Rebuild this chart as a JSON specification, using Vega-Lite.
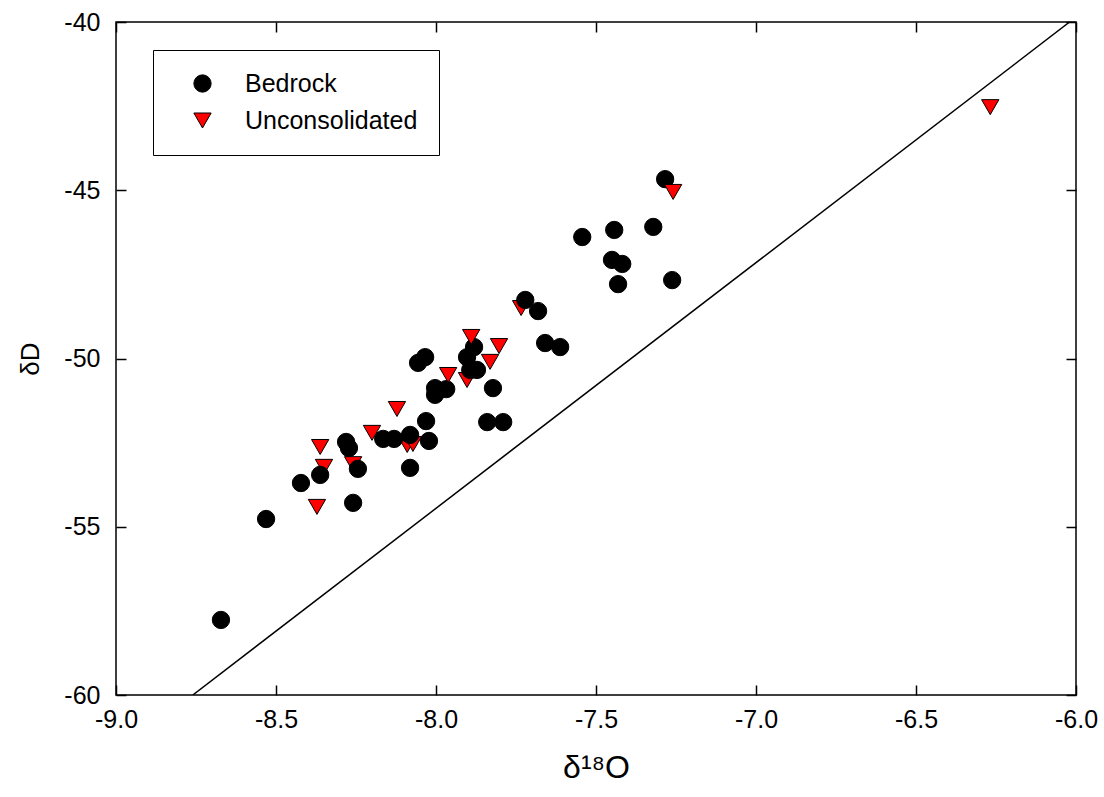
{
  "$schema": "https://vega.github.io/schema/vega-lite/v6.json",
  "width": 960,
  "height": 673,
  "autosize": {"type": "none"},
  "padding": {"left": 116, "top": 22, "right": 28, "bottom": 102},
  "background": "white",
  "config": {
    "view": {"stroke": "black", "strokeWidth": 1.5},
    "font": "Liberation Sans",
    "axis": {
      "domain": false,
      "grid": false,
      "tickColor": "black",
      "tickWidth": 1.5,
      "tickSize": -10,
      "labelFlush": false,
      "labelColor": "black",
      "labelFont": "Liberation Sans",
      "labelFontSize": 25,
      "titleColor": "black",
      "titleFont": "Liberation Sans",
      "titleFontWeight": "normal"
    }
  },
  "datasets": {
    "mwl": [
      {"o18": -8.76, "d2h": -60},
      {"o18": -6.02, "d2h": -40}
    ],
    "samples": [
      {"type": "Unconsolidated", "o18": -8.350, "d2h": -53.22},
      {"type": "Unconsolidated", "o18": -8.259, "d2h": -53.14},
      {"type": "Unconsolidated", "o18": -8.090, "d2h": -52.57},
      {"type": "Unconsolidated", "o18": -8.072, "d2h": -52.54},
      {"type": "Unconsolidated", "o18": -7.903, "d2h": -50.64},
      {"type": "Unconsolidated", "o18": -7.734, "d2h": -48.50},
      {"type": "Bedrock", "o18": -8.672, "d2h": -57.77},
      {"type": "Bedrock", "o18": -8.531, "d2h": -54.77},
      {"type": "Bedrock", "o18": -8.422, "d2h": -53.70},
      {"type": "Bedrock", "o18": -8.362, "d2h": -53.46},
      {"type": "Bedrock", "o18": -8.259, "d2h": -54.29},
      {"type": "Bedrock", "o18": -8.244, "d2h": -53.28},
      {"type": "Bedrock", "o18": -8.281, "d2h": -52.48},
      {"type": "Bedrock", "o18": -8.272, "d2h": -52.66},
      {"type": "Bedrock", "o18": -8.165, "d2h": -52.39},
      {"type": "Bedrock", "o18": -8.131, "d2h": -52.39},
      {"type": "Bedrock", "o18": -8.081, "d2h": -52.27},
      {"type": "Bedrock", "o18": -8.081, "d2h": -53.25},
      {"type": "Bedrock", "o18": -8.031, "d2h": -51.86},
      {"type": "Bedrock", "o18": -8.022, "d2h": -52.45},
      {"type": "Bedrock", "o18": -8.056, "d2h": -50.13},
      {"type": "Bedrock", "o18": -8.034, "d2h": -49.96},
      {"type": "Bedrock", "o18": -8.003, "d2h": -50.88},
      {"type": "Bedrock", "o18": -8.003, "d2h": -51.08},
      {"type": "Bedrock", "o18": -7.968, "d2h": -50.91},
      {"type": "Bedrock", "o18": -7.881, "d2h": -49.66},
      {"type": "Bedrock", "o18": -7.903, "d2h": -49.96},
      {"type": "Bedrock", "o18": -7.893, "d2h": -50.34},
      {"type": "Bedrock", "o18": -7.872, "d2h": -50.34},
      {"type": "Bedrock", "o18": -7.822, "d2h": -50.88},
      {"type": "Bedrock", "o18": -7.840, "d2h": -51.89},
      {"type": "Bedrock", "o18": -7.790, "d2h": -51.89},
      {"type": "Bedrock", "o18": -7.721, "d2h": -48.26},
      {"type": "Bedrock", "o18": -7.681, "d2h": -48.59},
      {"type": "Bedrock", "o18": -7.659, "d2h": -49.54},
      {"type": "Bedrock", "o18": -7.612, "d2h": -49.66},
      {"type": "Bedrock", "o18": -7.543, "d2h": -46.39},
      {"type": "Bedrock", "o18": -7.443, "d2h": -46.18},
      {"type": "Bedrock", "o18": -7.450, "d2h": -47.07},
      {"type": "Bedrock", "o18": -7.418, "d2h": -47.19},
      {"type": "Bedrock", "o18": -7.431, "d2h": -47.79},
      {"type": "Bedrock", "o18": -7.321, "d2h": -46.09},
      {"type": "Bedrock", "o18": -7.262, "d2h": -47.67},
      {"type": "Bedrock", "o18": -7.284, "d2h": -44.67},
      {"type": "Unconsolidated", "o18": -8.362, "d2h": -52.63},
      {"type": "Unconsolidated", "o18": -8.372, "d2h": -54.41},
      {"type": "Unconsolidated", "o18": -8.200, "d2h": -52.21},
      {"type": "Unconsolidated", "o18": -8.122, "d2h": -51.50},
      {"type": "Unconsolidated", "o18": -7.962, "d2h": -50.49},
      {"type": "Unconsolidated", "o18": -7.890, "d2h": -49.36},
      {"type": "Unconsolidated", "o18": -7.831, "d2h": -50.10},
      {"type": "Unconsolidated", "o18": -7.803, "d2h": -49.63},
      {"type": "Unconsolidated", "o18": -7.259, "d2h": -45.05},
      {"type": "Unconsolidated", "o18": -6.268, "d2h": -42.53}
    ]
  },
  "layer": [
    {
      "data": {"name": "mwl"},
      "mark": {"type": "line", "color": "black", "strokeWidth": 1.5, "clip": true},
      "encoding": {
        "x": {
          "field": "o18", "type": "quantitative",
          "scale": {"domain": [-9, -6], "nice": false, "zero": false},
          "axis": {
            "orient": "bottom",
            "values": [-9, -8.5, -8, -7.5, -7, -6.5, -6],
            "format": ".1f",
            "labelExpr": "replace(datum.label, '−', '-')",
            "labelPadding": 22,
            "title": "δ¹⁸O",
            "titleFontSize": 32,
            "titlePadding": 20
          }
        },
        "y": {
          "field": "d2h", "type": "quantitative",
          "scale": {"domain": [-60, -40], "nice": false, "zero": false},
          "axis": {
            "orient": "left",
            "values": [-60, -55, -50, -45, -40],
            "format": "d",
            "labelExpr": "replace(datum.label, '−', '-')",
            "labelPadding": 26,
            "title": "δD",
            "titleFontSize": 26,
            "titlePadding": 20
          }
        }
      }
    },
    {
      "data": {"name": "samples"},
      "mark": {"type": "point", "filled": true, "size": 300, "stroke": "black", "strokeWidth": 1, "opacity": 1},
      "encoding": {
        "x": {
          "field": "o18", "type": "quantitative",
          "axis": {"orient": "top", "values": [-9, -8.5, -8, -7.5, -7, -6.5, -6], "labels": false, "title": null}
        },
        "y": {
          "field": "d2h", "type": "quantitative",
          "axis": {"orient": "right", "values": [-60, -55, -50, -45, -40], "labels": false, "title": null}
        },
        "shape": {
          "field": "type", "type": "nominal",
          "scale": {"domain": ["Bedrock", "Unconsolidated"], "range": ["circle", "triangle-down"]}
        },
        "color": {
          "field": "type", "type": "nominal",
          "scale": {"domain": ["Bedrock", "Unconsolidated"], "range": ["black", "#ff0000"]},
          "legend": {
            "orient": "none",
            "legendX": 37,
            "legendY": 28,
            "title": null,
            "padding": 21,
            "strokeColor": "black",
            "fillColor": "white",
            "symbolSize": 300,
            "symbolStrokeColor": "black",
            "symbolStrokeWidth": 1,
            "symbolOffset": 16,
            "labelOffset": 30,
            "labelLimit": 400,
            "labelFontSize": 25,
            "labelColor": "black",
            "labelFont": "Liberation Sans",
            "rowPadding": 11
          }
        }
      }
    }
  ],
  "resolve": {"axis": {"x": "independent", "y": "independent"}}
}
